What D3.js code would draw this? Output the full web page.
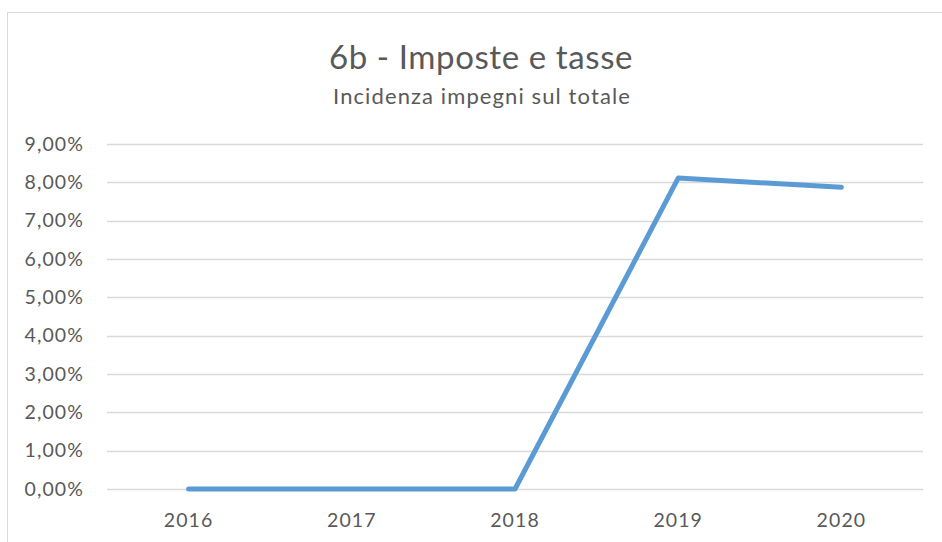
<!DOCTYPE html>
<html><head><meta charset="utf-8">
<script src="https://cdn.jsdelivr.net/npm/d3@7"></script>
<style>body{margin:0;background:#fff;} svg{display:block;}</style>
</head><body>
<script>
const categories = ["2016","2017","2018","2019","2020"];
const values = [0, 0, 0, 8.11, 7.87];
const yTicks = [0,1,2,3,4,5,6,7,8,9];
const title = "6b - Imposte e tasse";
const subtitle = "Incidenza impegni sul totale";

const W = 942, H = 542;
const svg = d3.select("body").append("svg").attr("width", W).attr("height", H);
svg.append("rect").attr("x", 7.5).attr("y", 12.5).attr("width", 960).attr("height", 560)
  .attr("fill", "#fff").attr("stroke", "#d9d9d9").attr("stroke-width", 1);

const font = "Lato, sans-serif";
const x = d3.scaleBand().domain(categories).range([107, 923]);
const y = d3.scaleLinear().domain([0, 9]).range([489, 144]);

svg.append("text").attr("x", 481).attr("y", 69).attr("text-anchor", "middle")
  .attr("font-family", font).attr("font-size", 33).attr("letter-spacing", 0.6)
  .attr("fill", "#595959").text(title);
svg.append("text").attr("x", 482).attr("y", 104).attr("text-anchor", "middle")
  .attr("font-family", font).attr("font-size", 22).attr("letter-spacing", 1.1)
  .attr("fill", "#595959").text(subtitle);

const grid = svg.append("g");
grid.selectAll("line").data(yTicks).join("line")
  .attr("x1", 107).attr("x2", 923)
  .attr("y1", d => Math.round(y(d)) + 0.5).attr("y2", d => Math.round(y(d)) + 0.5)
  .attr("stroke", "#d9d9d9").attr("stroke-width", 1.3);

const fmt = d => d.toFixed(2).replace(".", ",") + "%";
const yAxis = svg.append("g").attr("transform", "translate(107,0)")
  .call(d3.axisLeft(y).tickValues(yTicks).tickFormat(fmt).tickSize(0).tickPadding(23));
yAxis.select(".domain").remove();
yAxis.selectAll("text").attr("font-family", font).attr("font-size", 19.5)
  .attr("letter-spacing", 1.1).attr("fill", "#595959");

const xAxis = svg.append("g").attr("transform", "translate(0,489)")
  .call(d3.axisBottom(x).tickSize(0).tickPadding(24));
xAxis.select(".domain").remove();
xAxis.selectAll("text").attr("font-family", font).attr("font-size", 19.5)
  .attr("letter-spacing", 1.1).attr("fill", "#595959");

const line = d3.line().x((d, i) => x(categories[i]) + x.bandwidth() / 2).y(d => y(d));
svg.append("path").datum(values).attr("d", line)
  .attr("fill", "none").attr("stroke", "#5B9BD5").attr("stroke-width", 5)
  .attr("stroke-linecap", "round").attr("stroke-linejoin", "round");
</script>
</body></html>
